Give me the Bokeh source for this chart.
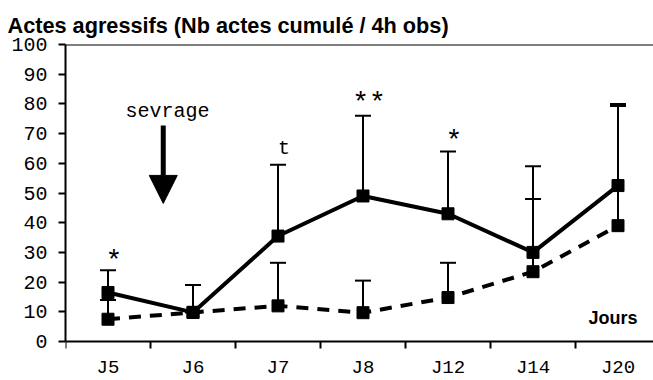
from bokeh.plotting import figure
from bokeh.models import FixedTicker, Span, Arrow, NormalHead, Range1d, LinearAxis
from bokeh.core.properties import value
from bokeh.embed import file_html
from bokeh.resources import INLINE

categories = ["J5", "J6", "J7", "J8", "J12", "J14", "J20"]
solid_vals = [16.5, 9.8, 35.5, 49.0, 43.0, 30.0, 52.5]
solid_err_top = [24.0, 19.0, 59.5, 76.0, 64.0, 59.0, 80.0]
dashed_vals = [7.5, 9.8, 12.0, 9.7, 14.8, 23.5, 39.0]
dashed_err_top = [14.0, 9.8, 26.5, 20.5, 26.5, 48.0, 79.3]
star_labels = ["*", "**", "*"]
star_cats = ["J5", "J8", "J12"]
star_y = [27.1, 80.3, 67.5]
t_label = ["t"]
t_cat = ["J7"]
t_y = [65.0]
y_ticks = list(range(0, 101, 10))

xpos = [i + 0.5 for i in range(len(categories))]
star_x = [categories.index(c) + 0.5 + 0.07 for c in star_cats]
t_x = [categories.index(c) + 0.5 + 0.07 for c in t_cat]

p = figure(width=653, height=380, output_backend="svg", toolbar_location=None,
           x_range=Range1d(0, 588 / 85), y_range=Range1d(-39 / 2.97, 100),
           x_axis_location=None,
           min_border_left=65, min_border_right=0, min_border_top=44, min_border_bottom=0,
           title="Actes agressifs (Nb actes cumulé / 4h obs)")
p.outline_line_color = None
p.grid.visible = False
p.background_fill_color = "white"

p.title.text_font = "Liberation Sans"
p.title.text_font_size = "21.7px"
p.title.text_font_style = "bold"
p.title.text_color = "black"
p.title.standoff = 14
p.title.offset = -58

mono = "Liberation Mono"
# x axis drawn at y=0: tick marks at category boundaries (minor), labels at centers
xa = LinearAxis(fixed_location=0)
xa.ticker = FixedTicker(ticks=xpos, minor_ticks=list(range(0, 8)))
xa.major_label_overrides = {x: c for x, c in zip(xpos, categories)}
xa.major_tick_out = 0
xa.major_tick_in = 0
xa.minor_tick_out = 7
xa.minor_tick_in = 0
xa.minor_tick_line_width = 2
xa.minor_tick_line_color = "black"
xa.axis_line_width = 2
xa.major_label_text_font = mono
xa.major_label_text_font_size = "19px"
xa.major_label_standoff = 8
xa.major_label_text_color = "black"
p.add_layout(xa, "below")

ya = p.yaxis[0]
ya.ticker = FixedTicker(ticks=y_ticks)
ya.bounds = (0, 100)
ya.minor_tick_line_color = None
ya.major_tick_out = 7
ya.major_tick_in = 0
ya.major_tick_line_width = 2
ya.axis_line_width = 2
ya.major_label_text_font = mono
ya.major_label_text_font_size = "20px"
ya.major_label_standoff = 11
ya.major_label_text_color = "black"

p.add_layout(Span(location=100, dimension="width", line_color="black", line_width=2))

# error bars (upper only)
p.segment(xpos, dashed_vals, xpos, dashed_err_top, line_color="black", line_width=2)
p.scatter(xpos, dashed_err_top, marker="dash", size=16, line_color="black", line_width=2)
p.segment(xpos, solid_vals, xpos, solid_err_top, line_color="black", line_width=2)
p.scatter(xpos, solid_err_top, marker="dash", size=16, line_color="black", line_width=2)

# lines
p.line(xpos, dashed_vals, line_color="black", line_width=4, line_dash="12 9")
p.line(xpos, solid_vals, line_color="black", line_width=4)
p.scatter(xpos, dashed_vals, marker="square", size=12, color="black")
p.scatter(xpos, solid_vals, marker="square", size=12, color="black")

# significance marks
p.text(star_x, star_y, text=star_labels, text_font=value(mono), text_font_size="28px",
       text_align="center", text_baseline="middle", text_color="black")
p.text(t_x, t_y, text=t_label, text_font=value(mono), text_font_size="20px",
       text_align="center", text_baseline="middle", text_color="black")

# weaning arrow
p.text([1.2], [77.4], text=["sevrage"], text_font=value(mono), text_font_size="20px",
       text_align="center", text_baseline="middle", text_color="black")
p.add_layout(Arrow(x_start=1.15, y_start=72.7, x_end=1.15, y_end=46.5, line_width=5,
                   line_color="black",
                   end=NormalHead(size=28, fill_color="black", line_color="black")))

p.text([6.73], [7.9], text=["Jours"], text_font=value("Liberation Sans"), text_font_size="18px",
       text_font_style="bold", text_align="right", text_baseline="middle", text_color="black")

open("out.html", "w").write(file_html(p, INLINE))
